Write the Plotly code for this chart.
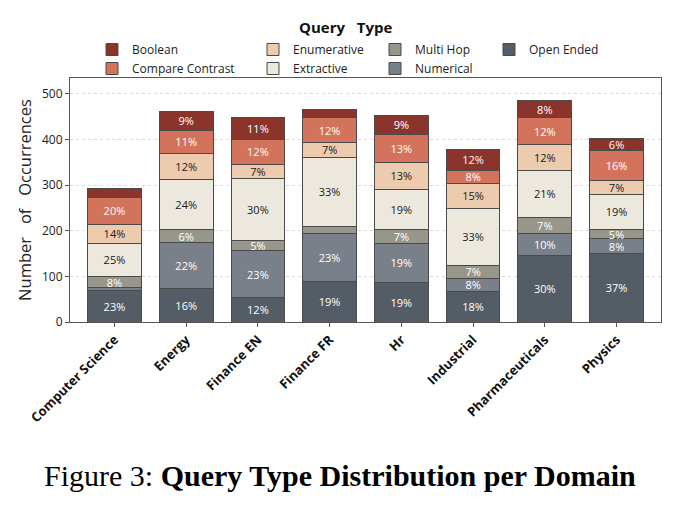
import plotly.graph_objects as go

domains = ["Computer Science", "Energy", "Finance EN", "Finance FR", "Hr",
           "Industrial", "Pharmaceuticals", "Physics"]

# stacking order: bottom -> top
open_ended       = [68, 74, 54, 89, 87, 67, 145, 150]
numerical        = [8, 100, 102, 105, 86, 29, 50, 32]
multi_hop        = [23, 28, 23, 15, 30, 28, 35, 21]
extractive       = [74, 111, 135, 152, 87, 125, 101, 77]
enumerative      = [41, 56, 32, 32, 60, 55, 58, 30]
compare_contrast = [59, 51, 53, 55, 61, 29, 58, 66]
boolean          = [20, 41, 50, 17, 42, 44, 39, 26]

series = [
    ("Open Ended", open_ended, "#545D66", "white", "legend4", 1),
    ("Numerical", numerical, "#7A8089", "white", "legend3", 2),
    ("Multi Hop", multi_hop, "#96978A", "white", "legend3", 1),
    ("Extractive", extractive, "#EDE8DD", "#1a1a1a", "legend2", 2),
    ("Enumerative", enumerative, "#ECCBAE", "#1a1a1a", "legend2", 1),
    ("Compare Contrast", compare_contrast, "#D4735B", "white", "legend", 2),
    ("Boolean", boolean, "#8B342C", "white", "legend", 1),
]

totals = [sum(s[1][i] for s in series) for i in range(len(domains))]
label_min = 21

W, H = 684, 507
L, R, T, B = 70, 661, 78, 322   # plot area in pixels


def px(x):
    return (x - L) / (R - L)


def py(y):
    return (B - y) / (B - T)


FONT = "Open Sans"
fig = go.Figure()
for name, vals, color, tcolor, leg, rank in series:
    txt = [f"{round(100 * v / t)}%" if v >= label_min else "" for v, t in zip(vals, totals)]
    fig.add_trace(go.Bar(
        x=domains, y=vals, name=name, text=txt, textposition="inside",
        insidetextanchor="middle",
        textfont=dict(color=tcolor, size=11, family=FONT),
        marker=dict(color=color, line=dict(color="#4a4a4a", width=1)),
        width=0.75, legend=leg, legendrank=rank,
    ))

leg_common = dict(orientation="v", yanchor="top", xanchor="left", y=py(35),
                  font=dict(size=12, family=FONT, color="#222"),
                  bgcolor="rgba(0,0,0,0)", tracegroupgap=0, itemwidth=30,
                  traceorder="normal")

fig.update_layout(
    width=W, height=H,
    margin=dict(l=L, r=W - R, t=T, b=H - B, autoexpand=False),
    paper_bgcolor="white", plot_bgcolor="white",
    barmode="stack", bargap=0.25,
    showlegend=True,
    uniformtext=dict(minsize=11, mode="show"),
    font=dict(family=FONT, color="#222"),
    legend=dict(**leg_common, x=px(92)),
    legend2=dict(**leg_common, x=px(253)),
    legend3=dict(**leg_common, x=px(375)),
    legend4=dict(**leg_common, x=px(489)),
    xaxis=dict(
        range=[-0.62, 7.62], tickangle=-45, showline=True, mirror=True,
        linecolor="#555", linewidth=1, ticks="outside", ticklen=4, tickcolor="#555",
        tickfont=dict(size=13, family=FONT, color="#111", weight="bold"),
    ),
    yaxis=dict(
        range=[0, max(totals) * 1.1], tickvals=[0, 100, 200, 300, 400, 500],
        showline=True, mirror=True, linecolor="#555", linewidth=1,
        ticks="outside", ticklen=4, tickcolor="#555",
        showgrid=True, gridcolor="#dadada", griddash="dot", gridwidth=1,
        tickfont=dict(size=12, family=FONT, color="#222"),
        title=dict(text="Number   of   Occurrences", font=dict(size=16.5, family=FONT, color="#222"),
                   standoff=6),
        zeroline=False,
    ),
    annotations=[
        dict(text="<b>Query   Type</b>", x=px(345), y=py(27), xref="paper", yref="paper",
             showarrow=False, font=dict(size=15, family=FONT, color="#111"),
             xanchor="center", yanchor="middle"),
        dict(text="Figure 3: <b>Query Type Distribution per Domain</b>", x=px(340),
             y=py(475), xref="paper", yref="paper", showarrow=False,
             font=dict(size=30, family="Liberation Serif", color="#000"),
             xanchor="center", yanchor="middle"),
    ],
)

fig.write_html("out.html")
